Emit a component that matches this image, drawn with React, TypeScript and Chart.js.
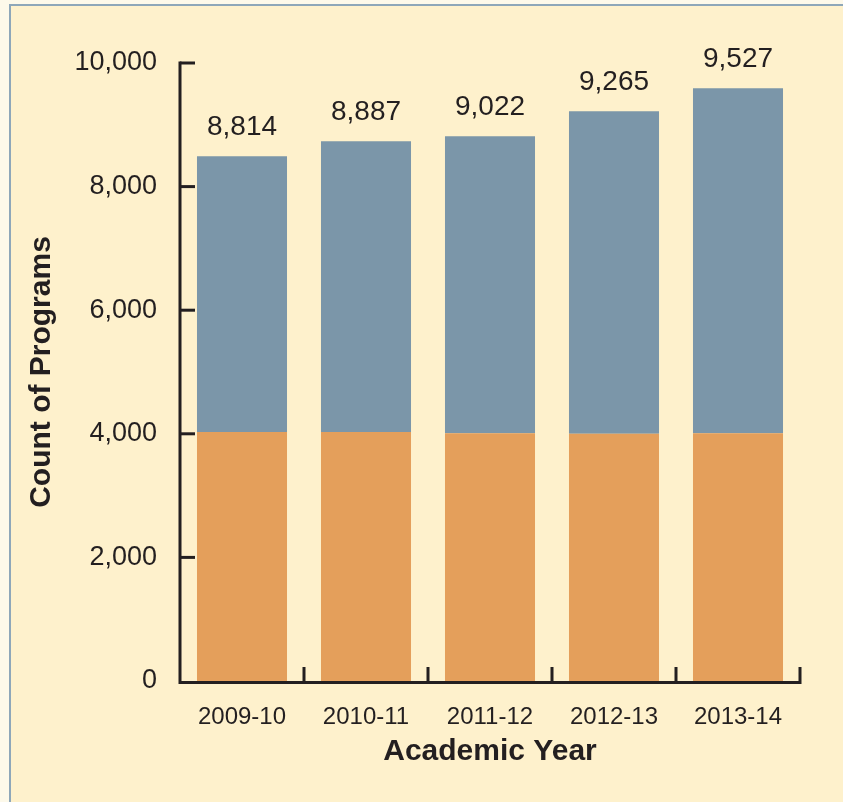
import React, { useEffect, useRef } from "react";
import { Chart, registerables } from "chart.js";

Chart.register(...registerables);

const categories = ["2009-10", "2010-11", "2011-12", "2012-13", "2013-14"];
const baseValues = [4030, 4030, 4010, 4000, 4010];
const upperValues = [4462, 4705, 4806, 5220, 5582];
const totalLabels = [8814, 8887, 9022, 9265, 9527];
const yMin = 0;
const yMax = 10000;
const yStep = 2000;

const TEXT = "#231f20";
const FONT = "'Liberation Sans', Arial, Helvetica, sans-serif";

const axesPlugin = {
  id: "customAxes",
  afterDatasetsDraw(chart: any) {
    const ctx = chart.ctx;
    const x = chart.scales.x;
    const y = chart.scales.y;
    const left = chart.chartArea.left;
    const right = chart.chartArea.right;
    const top = y.getPixelForValue(yMax);
    const bottom = y.getPixelForValue(yMin);
    ctx.save();
    ctx.strokeStyle = TEXT;
    ctx.lineWidth = 3;
    ctx.lineCap = "butt";
    ctx.beginPath();
    ctx.moveTo(left, top - 1.5);
    ctx.lineTo(left, bottom + 1.5);
    ctx.lineTo(right, bottom + 1.5);
    ctx.stroke();
    // y ticks (inward)
    for (let v = yMin + yStep; v <= yMax; v += yStep) {
      const py = y.getPixelForValue(v);
      ctx.beginPath();
      ctx.moveTo(left, py);
      ctx.lineTo(left + 15, py);
      ctx.stroke();
    }
    // x ticks (upward) at category boundaries
    const half = (x.getPixelForValue(1) - x.getPixelForValue(0)) / 2;
    for (let i = 0; i < categories.length; i++) {
      const px = x.getPixelForValue(i) + half;
      ctx.beginPath();
      ctx.moveTo(px, bottom + 3);
      ctx.lineTo(px, bottom - 14);
      ctx.stroke();
    }
    ctx.restore();
  },
};

const labelPlugin = {
  id: "totalLabels",
  afterDatasetsDraw(chart: any) {
    const ctx = chart.ctx;
    const meta = chart.getDatasetMeta(1);
    ctx.save();
    ctx.fillStyle = TEXT;
    ctx.font = `28px ${FONT}`;
    ctx.textAlign = "center";
    ctx.textBaseline = "middle";
    meta.data.forEach((bar: any, i: number) => {
      ctx.fillText(totalLabels[i].toLocaleString("en-US"), bar.x, bar.y - 29);
    });
    ctx.restore();
  },
};

export default function App() {
  const canvasRef = useRef<HTMLCanvasElement | null>(null);

  useEffect(() => {
    if (!canvasRef.current) return;
    const chart = new Chart(canvasRef.current, {
      type: "bar",
      data: {
        labels: categories,
        datasets: [
          {
            label: "Base",
            data: baseValues,
            backgroundColor: "#e49f5b",
            borderWidth: 0,
            stack: "s",
          },
          {
            label: "Upper",
            data: upperValues,
            backgroundColor: "#7b96a9",
            borderWidth: 0,
            stack: "s",
          },
        ],
      },
      options: {
        animation: false,
        responsive: false,
        maintainAspectRatio: false,
        devicePixelRatio: 1,
        layout: { padding: { left: 0, right: 43, top: 63, bottom: 0 } },
        datasets: {
          bar: { categoryPercentage: 1, barPercentage: 0.726 },
        },
        plugins: {
          legend: { display: false },
          tooltip: { enabled: false },
        },
        scales: {
          x: {
            stacked: true,
            grid: { display: false, drawTicks: false },
            border: { display: false },
            ticks: {
              color: TEXT,
              font: { family: FONT, size: 24 },
              padding: 22,
              maxRotation: 0,
            },
            title: {
              display: true,
              text: "Academic Year",
              color: TEXT,
              font: { family: FONT, size: 30, weight: "bold" },
              padding: { top: 0, bottom: 32 },
            },
            afterFit: (s: any) => {
              s.height = 121;
            },
          },
          y: {
            stacked: true,
            min: yMin,
            max: yMax,
            grid: { display: false, drawTicks: false },
            border: { display: false },
            ticks: {
              stepSize: yStep,
              color: TEXT,
              font: { family: FONT, size: 27 },
              padding: 23,
              callback: (v: any) => Number(v).toLocaleString("en-US"),
            },
            title: {
              display: true,
              text: "Count of Programs",
              color: TEXT,
              font: { family: FONT, size: 30, weight: "bold" },
              padding: { top: 24, bottom: 0 },
            },
            afterFit: (s: any) => {
              s.width = 180;
            },
          },
        },
      },
      plugins: [axesPlugin, labelPlugin],
    });
    return () => chart.destroy();
  }, []);

  return (
    <div
      style={{
        position: "absolute",
        left: 0,
        top: 0,
        width: 843,
        height: 802,
        background: "#fdf9ea",
        overflow: "hidden",
      }}
    >
      <div
        style={{
          position: "absolute",
          left: 9,
          top: 4,
          right: 0,
          bottom: 0,
          background: "#fef1cc",
          borderLeft: "2px solid #8ea7b9",
          borderTop: "2px solid #8ea7b9",
        }}
      />
      <canvas
        ref={canvasRef}
        width={843}
        height={802}
        style={{ position: "absolute", left: 0, top: 0, width: 843, height: 802 }}
      />
    </div>
  );
}
